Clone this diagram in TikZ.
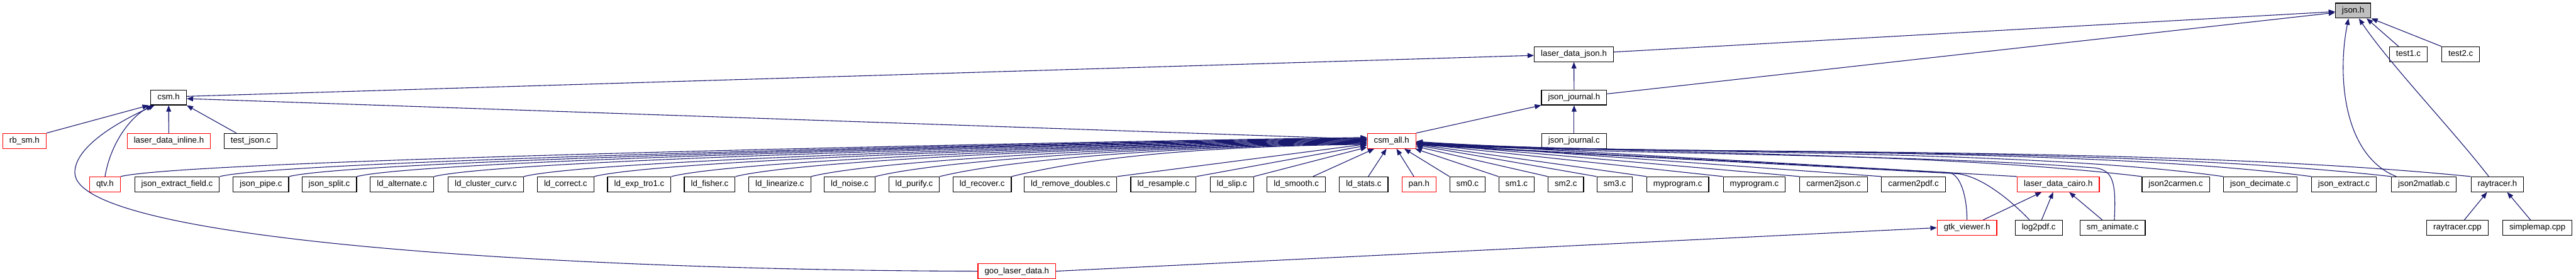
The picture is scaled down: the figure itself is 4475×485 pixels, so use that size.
\documentclass[tikz,border=0pt]{standalone}
\usepackage{fontspec}
\setmainfont{Liberation Sans}
\usetikzlibrary{arrows.meta}
\definecolor{edgeblue}{RGB}{25,25,112}
\definecolor{hdrred}{RGB}{255,0,0}
\definecolor{curgray}{RGB}{191,191,191}

\begin{document}
\begin{tikzpicture}[x=1pt, y=-1pt,
    file/.style={draw=black, fill=white, line width=1.3pt, minimum height=26pt,
        inner xsep=11.5pt, inner ysep=0pt, text height=11pt, text depth=3.5pt,
        font=\fontsize{14.5}{17}\selectfont},
    partial/.style={file, draw=hdrred},
    incl/.style={draw=edgeblue, line width=1.2pt, -{Triangle[length=11pt,width=8.5pt]}}]
    \useasboundingbox (0,0) rectangle (4475,485);

    % top rows
    \node[file, fill=curgray] (jsonh) at (4087.8,18.5) {json.h};
    \node[file] (ldjson) at (2734.1,94.3) {laser\_data\_json.h};
    \node[file] (testa) at (4183.7,94.3) {test1.c};
    \node[file] (testb) at (4274.7,94.3) {test2.c};
    \node[file] (csmh) at (292.9,169.5) {csm.h};
    \node[file] (jjh) at (2734.5,169.5) {json\_journal.h};
    \node[partial] (rbsm) at (42.5,245) {rb\_sm.h};
    \node[partial] (ldinline) at (293.3,245) {laser\_data\_inline.h};
    \node[file] (testjson) at (435.5,245) {test\_json.c};
    \node[partial] (csmall) at (2417.4,245) {csm\_all.h};
    \node[file] (jjc) at (2734.5,245) {json\_journal.c};

    % row of users of csm_all.h
    \node[partial] (qtv) at (182.4,320.5) {qtv.h};
    \node[file] (jef) at (307.6,320.5) {json\_extract\_field.c};
    \node[file] (jpipe) at (453.3,320.5) {json\_pipe.c};
    \node[file] (jsplit) at (572,320.5) {json\_split.c};
    \node[file] (ldalt) at (698.4,320.5) {ld\_alternate.c};
    \node[file] (ldclus) at (844,320.5) {ld\_cluster\_curv.c};
    \node[file] (ldcorr) at (982.5,320.5) {ld\_correct.c};
    \node[file] (ldexp) at (1110.5,320.5) {ld\_exp\_tro1.c};
    \node[file] (ldfish) at (1232.9,320.5) {ld\_fisher.c};
    \node[file] (ldlin) at (1354.6,320.5) {ld\_linearize.c};
    \node[file] (ldnoise) at (1476,320.5) {ld\_noise.c};
    \node[file] (ldpur) at (1587.9,320.5) {ld\_purify.c};
    \node[file] (ldrec) at (1706.1,320.5) {ld\_recover.c};
    \node[file] (ldremd) at (1859.7,320.5) {ld\_remove\_doubles.c};
    \node[file] (ldres) at (2021,320.5) {ld\_resample.c};
    \node[file] (ldslip) at (2140,320.5) {ld\_slip.c};
    \node[file] (ldsmooth) at (2251.9,320.5) {ld\_smooth.c};
    \node[file] (ldstats) at (2369,320.5) {ld\_stats.c};
    \node[partial] (pan) at (2465.1,320.5) {pan.h};
    \node[file] (smzero) at (2549.3,320.5) {sm0.c};
    \node[file] (smone) at (2634.5,320.5) {sm1.c};
    \node[file] (smtwo) at (2720.1,320.5) {sm2.c};
    \node[file] (smthree) at (2805,320.5) {sm3.c};
    \node[file] (myproga) at (2914.5,320.5) {myprogram.c};
    \node[file] (myprogb) at (3047.5,320.5) {myprogram.c};
    \node[file] (ctojson) at (3185.2,320.5) {carmen2json.c};
    \node[file] (ctopdf) at (3324.1,320.5) {carmen2pdf.c};
    \node[partial] (ldcairo) at (3575.6,320.5) {laser\_data\_cairo.h};
    \node[file] (jtocarmen) at (3779.7,320.5) {json2carmen.c};
    \node[file] (jdecim) at (3926.5,320.5) {json\_decimate.c};
    \node[file] (jextract) at (4071.7,320.5) {json\_extract.c};
    \node[file] (jtomatlab) at (4210.7,320.5) {json2matlab.c};
    \node[file] (rth) at (4338.4,320.5) {raytracer.h};

    % bottom rows
    \node[partial] (gtk) at (3417,396) {gtk\_viewer.h};
    \node[file] (logpdf) at (3541.6,396) {log2pdf.c};
    \node[file] (smanim) at (3670,396) {sm\_animate.c};
    \node[file] (rtcpp) at (4269,396) {raytracer.cpp};
    \node[file] (smap) at (4407.9,396) {simplemap.cpp};
    \node[partial] (goo) at (1766.4,471.5) {goo\_laser\_data.h};

    % json.h
    \draw[incl] (ldjson) -- (jsonh);
    \draw[incl] (jjh) -- (jsonh);
    \draw[incl] ([xshift=-17pt]testa.north) -- ([xshift=-8pt]jsonh.south east);
    \draw[incl] (testb.north west) -- (jsonh.south east);
    \draw[incl] ([xshift=-48pt]jtomatlab.north) .. controls (4070,270) and (4060,130) .. ([xshift=-8pt]jsonh.south);
    \draw[incl] ([xshift=-15pt]rth.north) .. controls (4260,225) and (4150,110) .. ([xshift=10pt]jsonh.south);

    % json_journal
    \draw[incl] (jjh) -- (ldjson);
    \draw[incl] (jjc) -- (jjh);
    \draw[incl] (csmall.north east) -- (jjh.south west);

    % csm.h
    \draw[incl] ([yshift=2pt]csmh.east) -- ([yshift=-2pt]ldjson.west);
    \draw[incl] ([yshift=3pt]csmall.west) -- ([yshift=-2pt]csmh.east);
    \draw[incl] (rbsm.north east) -- ([xshift=-3pt]csmh.south west);
    \draw[incl] (ldinline) -- (csmh);
    \draw[incl] ([xshift=-25pt]testjson.north) -- (csmh.south east);
    \draw[incl] (qtv.north) .. controls (192,250) and (225,205) .. ([xshift=3pt]csmh.south west);
    \draw[incl] (goo.west) .. controls (1000,470) and (130,420) .. (130,300)
        .. controls (130,255) and (205,212) .. ([xshift=7pt]csmh.south west);

    % csm_all.h, from the left
    \foreach \n/\s in {qtv/6, jef/5, jpipe/4, jsplit/3, ldalt/2, ldclus/1, ldcorr/0,
        ldexp/-1, ldfish/-2, ldlin/-3, ldnoise/-4, ldpur/-5, ldrec/-6}
        \draw[incl] (\n.north east) .. controls +(130,-32) and +(-300,4) .. ([yshift=\s pt]csmall.west);
    \foreach \n in {ldremd, ldres, ldslip}
        \draw[incl] (\n.north east) -- (csmall);
    \draw[incl] ([xshift=29pt]ldsmooth.north) -- (csmall);
    \draw[incl] ([xshift=8pt]ldstats.north) -- (csmall);
    \draw[incl] ([xshift=-9pt]pan.north) -- (csmall);

    % csm_all.h, from the right
    \foreach \n in {smzero, smone, smtwo, smthree, myproga, myprogb, ctojson, ctopdf, ldcairo}
        \draw[incl] (\n.north west) -- (csmall);
    \draw[incl] (jtocarmen.north west) .. controls (3350,262) and (2780,268) .. ([yshift=-1pt]csmall.east);
    \draw[incl] (jdecim.north west) .. controls (3500,256) and (2790,269) .. ([yshift=-2pt]csmall.east);
    \draw[incl] (jextract.north west) .. controls (3600,252) and (2800,270) .. ([yshift=-3pt]csmall.east);
    \draw[incl] (jtomatlab.north west) .. controls (3650,250) and (2800,271) .. ([yshift=-4pt]csmall.east);
    \draw[incl] (rth.north west) .. controls (3700,248) and (2800,272) .. ([yshift=-5pt]csmall.east);
    \draw[incl] (gtk.north) .. controls (3417,340) and (3405,302) .. (3385,300) -- ([yshift=-6pt]csmall.east);
    \draw[incl] ([xshift=-16pt]logpdf.north) .. controls (3490,345) and (3440,306) .. (3400,302) -- ([yshift=-7pt]csmall.east);
    \draw[incl] ([xshift=3pt]smanim.north) .. controls (3676,320) and (3672,296) .. (3640,292)
        .. controls (3300,266) and (2800,270) .. ([yshift=-4pt]csmall.east);

    % laser_data_cairo.h, gtk_viewer.h, raytracer.h
    \draw[incl] ([xshift=28pt]gtk.north) -- ([xshift=-29pt]ldcairo.south);
    \draw[incl] ([xshift=5pt]logpdf.north) -- ([xshift=-9pt]ldcairo.south);
    \draw[incl] ([xshift=-18pt]smanim.north) -- ([xshift=19pt]ldcairo.south);
    \draw[incl] (goo.east) -- (gtk.west);
    \draw[incl] ([xshift=12pt]rtcpp.north) -- ([xshift=-18pt]rth.south);
    \draw[incl] ([xshift=-12pt]smap.north) -- ([xshift=17pt]rth.south);
\end{tikzpicture}
\end{document}
